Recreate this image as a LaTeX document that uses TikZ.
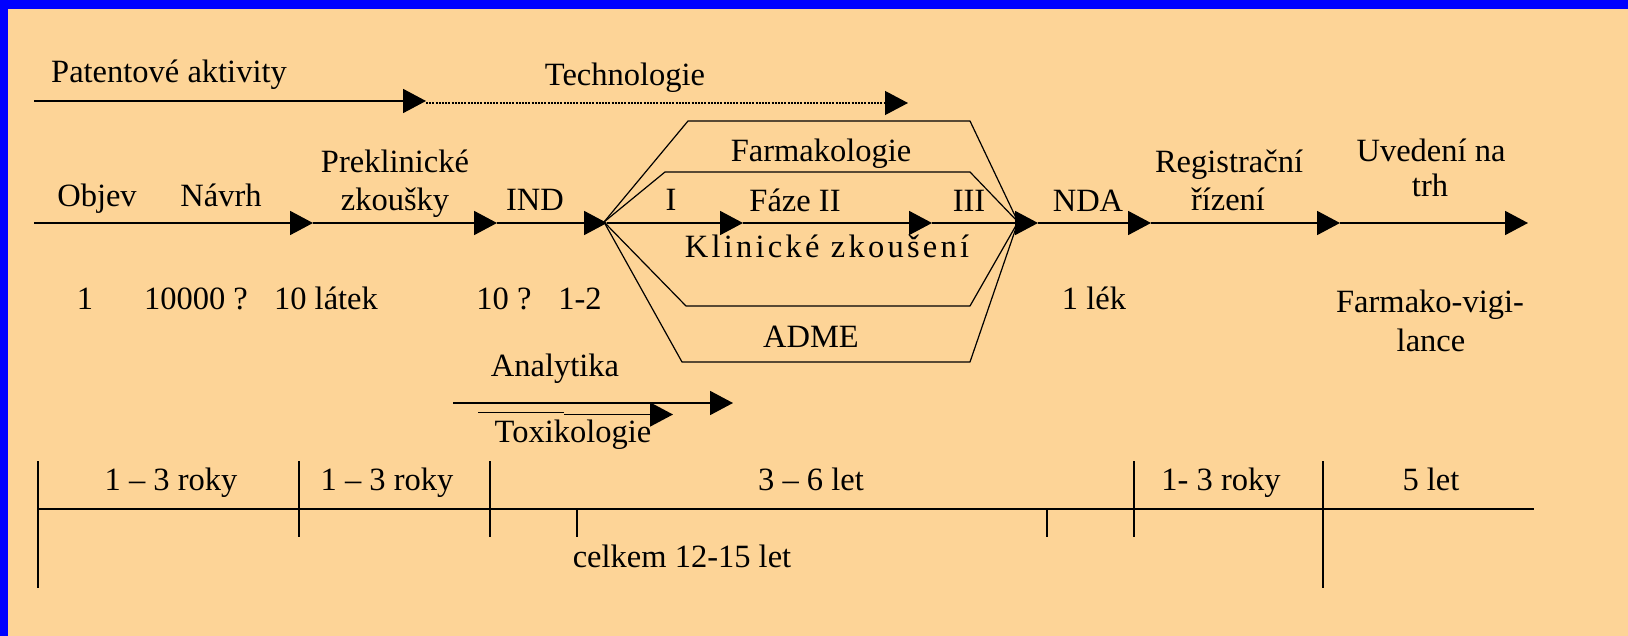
\documentclass[tikz,border=0pt]{standalone}
\usepackage{fontspec}
\setmainfont{Liberation Serif}
\newfontfamily\spacedfont[LetterSpace=10]{Liberation Serif}
\usetikzlibrary{arrows.meta}
\definecolor{bgbeige}{RGB}{253,212,151}
\definecolor{frameblue}{RGB}{0,0,255}
\tikzset{
  lbl/.style={anchor=base, inner sep=0pt, font=\fontsize{32.5}{39}\selectfont},
  tri/.style={-{Triangle[length=23pt,width=24pt]}},
  mainline/.style={line width=1.8pt, tri},
  hexline/.style={line width=1.2pt, line join=round},
  tick/.style={line width=1.6pt},
}
\begin{document}
\begin{tikzpicture}[x=1pt,y=-1pt]
\useasboundingbox (0,0) rectangle (1628,636);
\fill[bgbeige] (0,0) rectangle (1628,636);
\fill[frameblue] (0,0) rectangle (1628,9);
\fill[frameblue] (0,0) rectangle (8,636);

% top arrows
\coordinate (p0) at (34,101);
\coordinate (p1) at (426,101);
\coordinate (t0) at (426,103);
\coordinate (t1) at (908,103);
\draw[mainline] (p0) -- (p1);
\draw[line width=1.2pt, dash pattern=on 2pt off 1.2pt, tri] (t0) -- (t1);
\node[lbl] (patent) at (169,83) {Patentové aktivity};
\node[lbl] (techno) at (625,86) {Technologie};

% main line
\coordinate (m0) at (34,223);
\coordinate (m1) at (313,223);
\coordinate (m2) at (497,223);
\coordinate (m3) at (607,223);
\coordinate (m4) at (743,223);
\coordinate (m5) at (932,223);
\coordinate (m6) at (1038,223);
\coordinate (m7) at (1151,223);
\coordinate (m8) at (1340,223);
\coordinate (m9) at (1528,223);
\foreach \a/\b in {m0/m1,m1/m2,m2/m3,m3/m4,m4/m5,m5/m6,m6/m7,m7/m8,m8/m9}
  \draw[mainline] (\a) -- (\b);

% hexagon-like branches
\coordinate (F) at (604,222);
\coordinate (C) at (1018,222);
\draw[hexline] (F) -- (688,121) -- (970,121) -- (C);
\draw[hexline] (F) -- (665,172) -- (970,172) -- (C);
\draw[hexline] (F) -- (686,306) -- (970,306) -- (C);
\draw[hexline] (F) -- (682,362) -- (970,362) -- (C);

% labels on main line
\node[lbl] (objev) at (97,207) {Objev};
\node[lbl] (navrh) at (221,207) {Návrh};
\node[lbl] (prekl) at (395,173) {Preklinické};
\node[lbl] (zkous) at (395,211) {zkoušky};
\node[lbl] (ind) at (535,211) {IND};
\node[lbl] (fI) at (671,211) {I};
\node[lbl] (fII) at (795,212) {Fáze II};
\node[lbl] (fIII) at (969,212) {III};
\node[lbl] (farm) at (821,162) {Farmakologie};
\node[lbl, font=\fontsize{32.5}{39}\spacedfont] (klin) at (827,258) {Klinické zkoušení};
\node[lbl] (adme) at (811,348) {ADME};
\node[lbl] (nda) at (1088,212) {NDA};
\node[lbl] (reg) at (1229,173) {Registrační};
\node[lbl] (riz) at (1228,211) {řízení};
\node[lbl] (uved) at (1431,162) {Uvedení na};
\node[lbl] (trh) at (1430,197) {trh};

% numbers
\node[lbl] (n1) at (85,310) {1};
\node[lbl] (n2) at (196,310) {10000 ?};
\node[lbl] (n3) at (326,310) {10 látek};
\node[lbl] (n4) at (504,310) {10 ?};
\node[lbl] (n5) at (580,310) {1-2};
\node[lbl] (n6) at (1094,310) {1 lék};
\node[lbl] (fv1) at (1430,313) {Farmako-vigi-};
\node[lbl] (fv2) at (1431,352) {lance};

% analytika / toxikologie
\node[lbl] (anal) at (555,376) {Analytika};
\coordinate (a0) at (453,403);
\coordinate (a1) at (733,403);
\draw[mainline] (a0) -- (a1);
\coordinate (x0) at (478,412.5);
\coordinate (x1) at (564,412.5);
\coordinate (x2) at (564,414.5);
\coordinate (x3) at (673,414.5);
\draw[line width=1.8pt] (x0) -- (x1);
\draw[mainline] (x2) -- (x3);
\node[lbl] (toxi) at (573,442) {Toxikologie};

% bottom timeline
\coordinate (b0) at (38,509);
\coordinate (b1) at (1534,509);
\draw[tick] (b0) -- (b1);
\foreach \x/\ya/\yb in {38/461/588, 299/461/537, 490/461/537, 577/509/537, 1047/509/537, 1134/461/537, 1323/461/588}
  \draw[tick] (\x,\ya) -- (\x,\yb);
\node[lbl] (d1) at (171,490) {1 – 3 roky};
\node[lbl] (d2) at (387,490) {1 – 3 roky};
\node[lbl] (d3) at (811,490) {3 – 6 let};
\node[lbl] (d4) at (1221,490) {1- 3 roky};
\node[lbl] (d5) at (1431,490) {5 let};
\node[lbl] (tot) at (682,567) {celkem 12-15 let};
\end{tikzpicture}
\end{document}
